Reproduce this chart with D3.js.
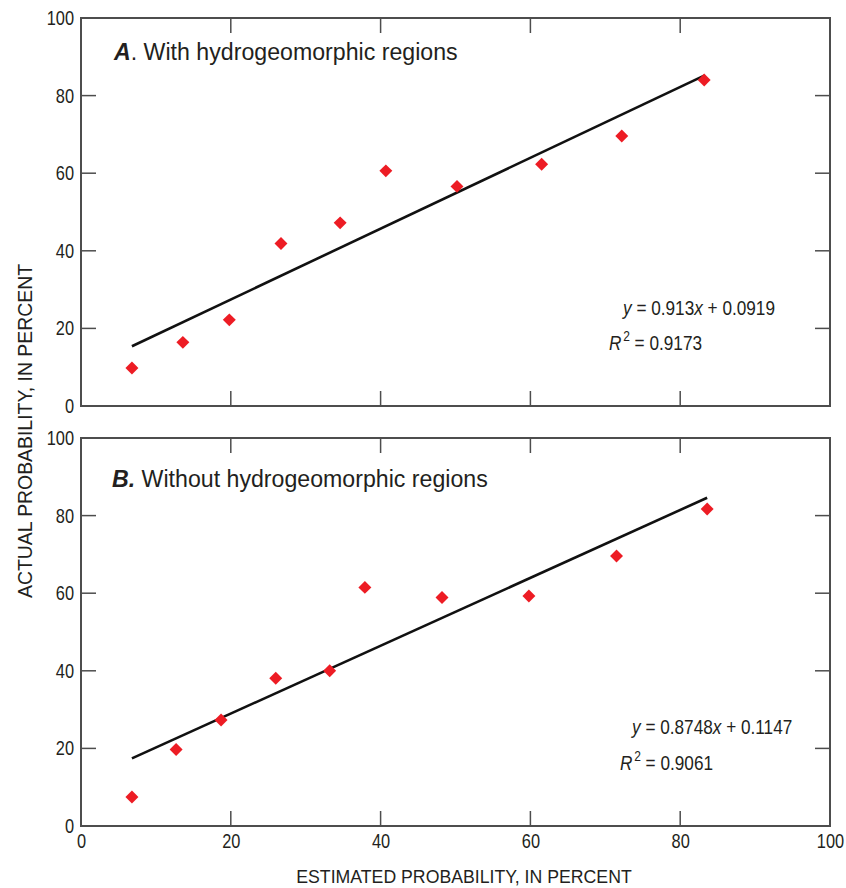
<!DOCTYPE html>
<html>
<head>
<meta charset="utf-8">
<script src="https://cdn.jsdelivr.net/npm/d3@7"></script>
<style>
  html, body { margin: 0; padding: 0; background: #fff; }
  svg { display: block; }
  text { font-family: "Liberation Sans", Arial, sans-serif; fill: #231f20; }
</style>
</head>
<body>
<script>
// ---- Data ----
const estimatedA = [6.8, 13.6, 19.8, 26.7, 34.6, 40.7, 50.2, 61.5, 72.2, 83.2];
const actualA    = [9.8, 16.4, 22.2, 41.9, 47.2, 60.6, 56.6, 62.3, 69.6, 84.0];
const estimatedB = [6.8, 12.7, 18.7, 26.0, 33.2, 37.9, 48.2, 59.8, 71.5, 83.6];
const actualB    = [7.5, 19.7, 27.3, 38.1, 40.0, 61.5, 58.9, 59.3, 69.6, 81.7];
const slopeA = 0.913, interceptA = 0.0919, r2A = 0.9173;
const slopeB = 0.8748, interceptB = 0.1147, r2B = 0.9061;
const tickValues = [0, 20, 40, 60, 80, 100];
const titlesLetter = ["A", "B"];
const titlesText = ["With hydrogeomorphic regions", "Without hydrogeomorphic regions"];
const xTitle = "ESTIMATED PROBABILITY, IN PERCENT";
const yTitle = "ACTUAL PROBABILITY, IN PERCENT";

const W = 846, H = 888;
const svg = d3.select("body").append("svg").attr("width", W).attr("height", H);

const x = d3.scaleLinear().domain([0, 100]).range([81, 830]);
const panels = [
  { top: 18, bottom: 406, est: estimatedA, act: actualA, slope: slopeA, inter: interceptA, r2: r2A,
    letter: titlesLetter[0], text: titlesText[0], letterDotBold: false,
    titlePos: [114, 60], eqPos: [623, 315], r2Pos: [609, 350], xLabels: false },
  { top: 438, bottom: 826, est: estimatedB, act: actualB, slope: slopeB, inter: interceptB, r2: r2B,
    letter: titlesLetter[1], text: titlesText[1], letterDotBold: true,
    titlePos: [112, 487], eqPos: [632, 734], r2Pos: [620, 770], xLabels: true }
];

const frameColor = "#4d4d4d";
const tickLen = 15;
const SX = 0.82;

function condensed(parent, px, py, sx, size) {
  return parent.append("text")
    .attr("transform", `translate(${px},${py}) scale(${sx},1)`)
    .attr("font-size", size);
}

panels.forEach(p => {
  const y = d3.scaleLinear().domain([0, 100]).range([p.bottom, p.top]);
  const g = svg.append("g");
  const inner = [20, 40, 60, 80];

  // left axis labels
  const left = g.append("g").attr("transform", `translate(${x(0)},0)`)
    .call(d3.axisLeft(y).tickValues(tickValues).tickSize(0).tickPadding(8.5).tickFormat(d3.format("d")));
  left.select(".domain").remove();
  left.selectAll("text").attr("font-size", 20).attr("font-family", null).attr("fill", "#231f20")
    .attr("transform", `scale(${SX},1)`);

  // inward ticks on all four sides
  const tl = g.append("g").attr("stroke", frameColor).attr("stroke-width", 1.5);
  inner.forEach(v => {
    tl.append("line").attr("x1", x(0)).attr("x2", x(0) + tickLen).attr("y1", y(v)).attr("y2", y(v));
    tl.append("line").attr("x1", x(100)).attr("x2", x(100) - tickLen).attr("y1", y(v)).attr("y2", y(v));
    tl.append("line").attr("x1", x(v)).attr("x2", x(v)).attr("y1", y(0)).attr("y2", y(0) - tickLen);
    tl.append("line").attr("x1", x(v)).attr("x2", x(v)).attr("y1", y(100)).attr("y2", y(100) + tickLen);
  });

  // frame
  g.append("rect").attr("x", x(0)).attr("y", y(100)).attr("width", x(100) - x(0)).attr("height", y(0) - y(100))
    .attr("fill", "none").attr("stroke", frameColor).attr("stroke-width", 2);

  // bottom labels
  if (p.xLabels) {
    const bottom = g.append("g").attr("transform", `translate(0,${y(0)})`)
      .call(d3.axisBottom(x).tickValues(tickValues).tickSize(0).tickPadding(8).tickFormat(d3.format("d")));
    bottom.select(".domain").remove();
    bottom.selectAll("text").attr("font-size", 20).attr("font-family", null).attr("fill", "#231f20")
      .attr("transform", `scale(${SX},1)`);
  }

  // regression line
  const xmin = d3.min(p.est), xmax = d3.max(p.est);
  const f = v => p.slope * v + p.inter * 100;
  g.append("line").attr("x1", x(xmin)).attr("y1", y(f(xmin))).attr("x2", x(xmax)).attr("y2", y(f(xmax)))
    .attr("stroke", "#111").attr("stroke-width", 2.6);

  // points
  const sym = d3.symbol().type(d3.symbolSquare).size(84);
  g.selectAll("path.pt").data(p.est.map((e, i) => [e, p.act[i]])).join("path")
    .attr("class", "pt")
    .attr("d", sym)
    .attr("transform", d => `translate(${x(d[0])},${y(d[1])}) rotate(45)`)
    .attr("fill", "#ed1c24");

  // title
  const t = condensed(g, p.titlePos[0], p.titlePos[1], 0.965, 24);
  t.append("tspan").attr("font-weight", "bold").attr("font-style", "italic").text(p.letter + (p.letterDotBold ? "." : ""));
  if (!p.letterDotBold) t.append("tspan").text(".");
  t.append("tspan").text(" " + p.text);

  // equation
  const eq = condensed(g, p.eqPos[0], p.eqPos[1], 0.86, 20);
  eq.append("tspan").attr("font-style", "italic").text("y");
  eq.append("tspan").text(" = " + p.slope);
  eq.append("tspan").attr("font-style", "italic").text("x");
  eq.append("tspan").text(" + " + p.inter);

  const r = condensed(g, p.r2Pos[0], p.r2Pos[1], 0.86, 20);
  r.append("tspan").attr("font-style", "italic").text("R");
  r.append("tspan").attr("font-size", 14).attr("dx", 2).attr("dy", -9).text("2");
  r.append("tspan").attr("dy", 9).text(" = " + p.r2);
});

// axis titles
svg.append("text").attr("x", 464).attr("y", 883).attr("text-anchor", "middle").attr("font-size", 17.7).text(xTitle);
svg.append("text").attr("transform", "translate(32,431) rotate(-90)").attr("text-anchor", "middle").attr("font-size", 19.4).text(yTitle);
</script>
</body>
</html>
